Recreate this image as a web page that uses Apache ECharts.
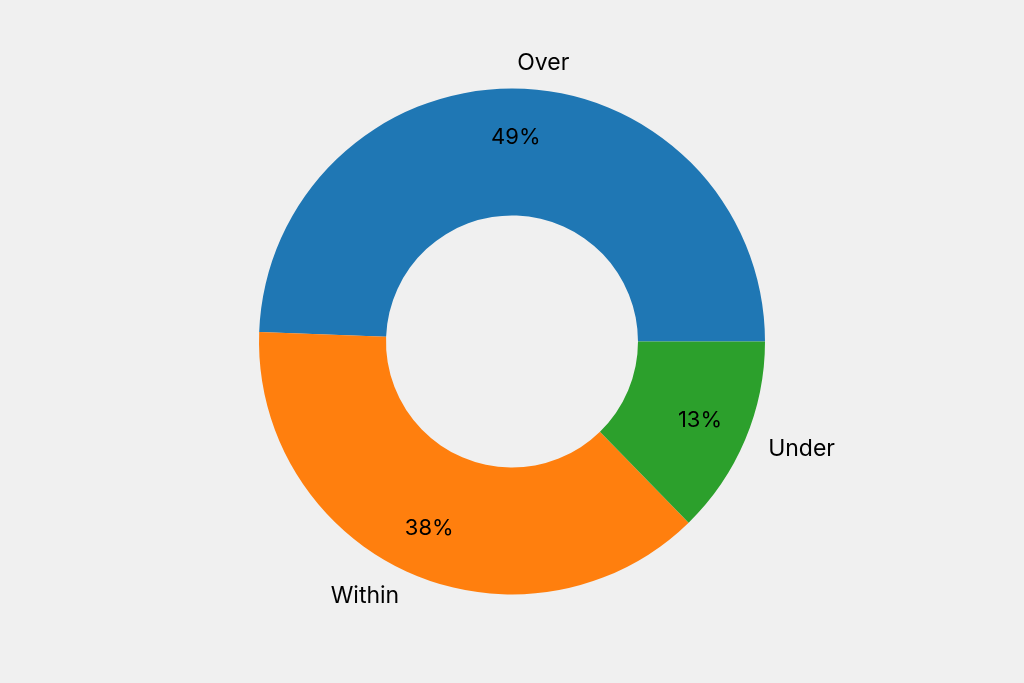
<!DOCTYPE html>
<html>
<head>
<meta charset="utf-8">
<script src="https://cdn.jsdelivr.net/npm/echarts@6/dist/echarts.min.js"></script>
<style>
	html, body { margin: 0; padding: 0; background: #f0f0f0; }
	#chart { width: 1024px; height: 683px; }
</style>
</head>
<body>
<div id="chart"></div>
<script>
// slice values (percent of total)
const categories = ["Over", "Within", "Under"];
const shares = [49.4, 37.9, 12.7];
const colors = ["#1f77b4", "#ff7f0e", "#2ca02c"];

const fontFamily = "Inter, 'Noto Sans', sans-serif";

const sliceData = categories.map(function (name, i) {
	return { name: name, value: shares[i], itemStyle: { color: colors[i] } };
});

const option = {
	backgroundColor: "#f0f0f0",
	animation: false,
	series: [
		{
			// the ring itself, with category names outside
			type: "pie",
			center: ["50%", "50%"],
			radius: [126, 253],
			startAngle: 0,
			clockwise: false,
			avoidLabelOverlap: false,
			silent: true,
			label: {
				show: true,
				position: "outside",
				color: "#000",
				fontSize: 23,
				fontFamily: fontFamily,
				distanceToLabelLine: 0,
				formatter: "{b}",
			},
			labelLine: { show: false, length: 25, length2: 0 },
			data: sliceData,
		},
		{
			// invisible ring that only carries the percentages
			type: "pie",
			center: ["50%", "50%"],
			radius: [149, 253],
			startAngle: 0,
			clockwise: false,
			avoidLabelOverlap: false,
			silent: true,
			itemStyle: { color: "transparent" },
			label: {
				show: true,
				position: "inside",
				color: "#000",
				fontSize: 22,
				fontFamily: fontFamily,
				formatter: function (p) {
					return Math.round(p.percent) + "%";
				},
			},
			labelLine: { show: false },
			data: categories.map(function (name, i) {
				return { name: name, value: shares[i] };
			}),
		},
	],
};

const chartDom = document.getElementById("chart");
const pieChart = echarts.init(chartDom);
pieChart.setOption(option);
</script>
</body>
</html>
